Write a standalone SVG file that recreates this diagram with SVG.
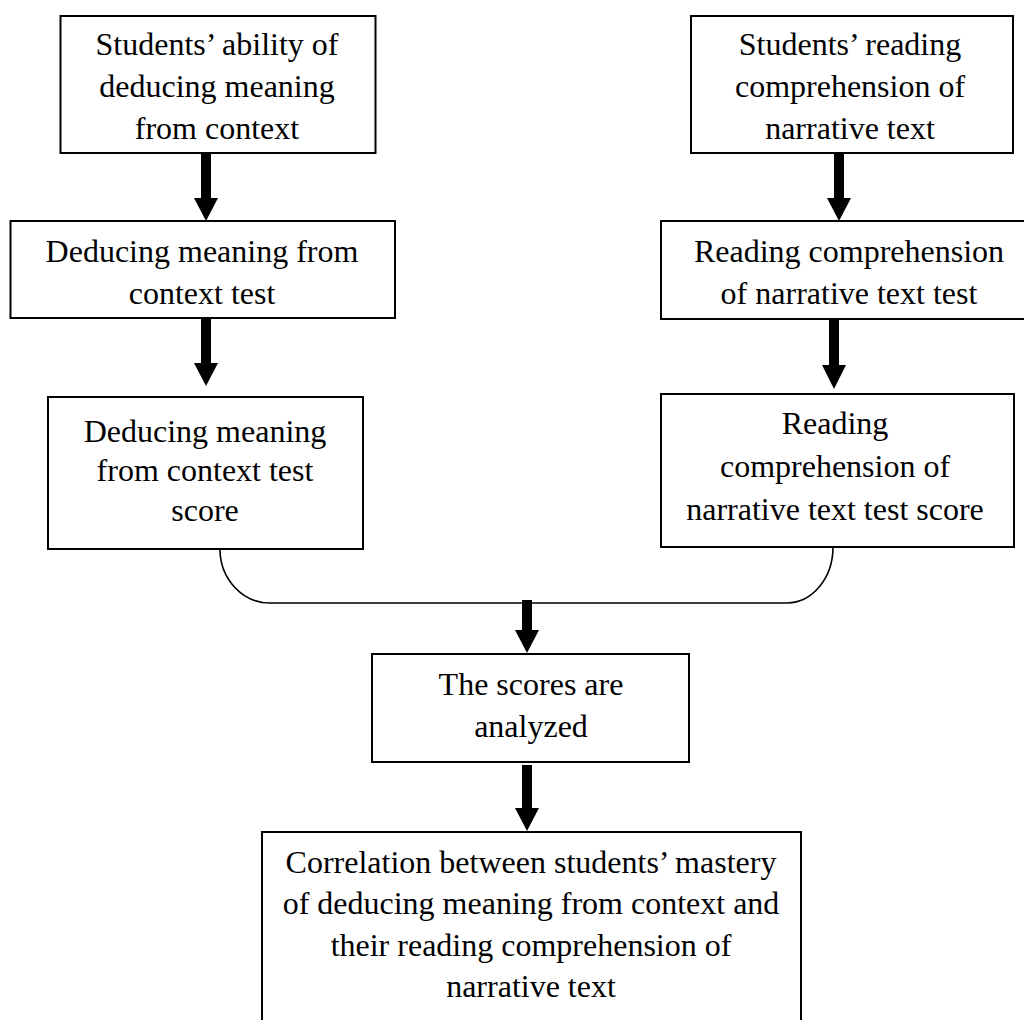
<svg xmlns="http://www.w3.org/2000/svg" width="1024" height="1020" viewBox="0 0 1024 1020">
<style>
.box{fill:#fff;stroke:#000;stroke-width:2}
.t{font-family:"Liberation Serif","Times New Roman",serif;font-size:32px;fill:#000;text-anchor:middle}
.shaft{stroke:#000;stroke-width:10;fill:none}
.head{fill:#000}
.curve{fill:none;stroke:#000;stroke-width:1.6}
</style>
<rect width="1024" height="1020" fill="#fff"/>
<g id="connectors">
<path class="curve" d="M220,549 A50,54 0 0 0 270,603 L787,603 A46,56 0 0 0 833,547"/>
<line class="shaft" x1="206" y1="153" x2="206" y2="200"/>
<polygon class="head" points="194,198 218,198 206,221"/>
<line class="shaft" x1="206" y1="319" x2="206" y2="365"/>
<polygon class="head" points="194,363 218,363 206,386"/>
<line class="shaft" x1="839" y1="153" x2="839" y2="200"/>
<polygon class="head" points="827,198 851,198 839,221"/>
<line class="shaft" x1="834" y1="320" x2="834" y2="367"/>
<polygon class="head" points="822,365 846,365 834,389"/>
<line class="shaft" x1="527" y1="600" x2="527" y2="632"/>
<polygon class="head" points="515,630 539,630 527,653"/>
<line class="shaft" x1="527" y1="765" x2="527" y2="810"/>
<polygon class="head" points="515,808 539,808 527,831"/>
</g>
<g id="n1">
<rect class="box" x="60.5" y="16" width="315" height="137"/>
<text class="t" x="217" y="55">Students’ ability of</text>
<text class="t" x="217" y="97">deducing meaning</text>
<text class="t" x="217" y="139">from context</text>
</g>
<g id="n2">
<rect class="box" x="10.5" y="221" width="384.5" height="97"/>
<text class="t" x="202" y="262">Deducing meaning from</text>
<text class="t" x="202" y="304">context test</text>
</g>
<g id="n3">
<rect class="box" x="48" y="397" width="315" height="152"/>
<text class="t" x="205" y="442">Deducing meaning</text>
<text class="t" x="205" y="481">from context test</text>
<text class="t" x="205" y="521">score</text>
</g>
<g id="n4">
<rect class="box" x="691" y="16" width="322" height="137"/>
<text class="t" x="850" y="55">Students’ reading</text>
<text class="t" x="850" y="97">comprehension of</text>
<text class="t" x="850" y="139">narrative text</text>
</g>
<g id="n5">
<rect class="box" x="661" y="221" width="380" height="98"/>
<text class="t" x="849" y="262">Reading comprehension</text>
<text class="t" x="849" y="304">of narrative text test</text>
</g>
<g id="n6">
<rect class="box" x="661" y="394" width="353" height="153"/>
<text class="t" x="835" y="434">Reading</text>
<text class="t" x="835" y="477">comprehension of</text>
<text class="t" x="835" y="520">narrative text test score</text>
</g>
<g id="n7">
<rect class="box" x="372" y="654" width="317" height="108"/>
<text class="t" x="531" y="695">The scores are</text>
<text class="t" x="531" y="737">analyzed</text>
</g>
<g id="n8">
<rect class="box" x="262" y="832" width="539" height="200"/>
<text class="t" x="531" y="873">Correlation between students’ mastery</text>
<text class="t" x="531" y="914">of deducing meaning from context and</text>
<text class="t" x="531" y="956">their reading comprehension of</text>
<text class="t" x="531" y="997">narrative text</text>
</g>
</svg>
